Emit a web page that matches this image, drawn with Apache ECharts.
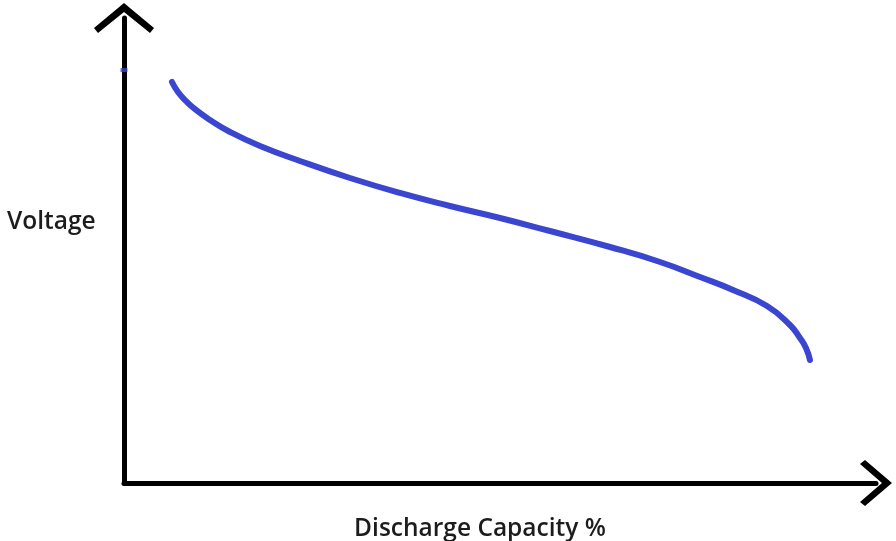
<!DOCTYPE html>
<html>
<head>
<meta charset="utf-8">
<script src="https://cdn.jsdelivr.net/npm/echarts@6/dist/echarts.min.js"></script>
<style>html,body{margin:0;padding:0;background:#fff;}#c{width:896px;height:541px;}</style>
</head>
<body>
<div id="c"></div>
<script>
// Data (discharge capacity %, voltage in relative units)
const capacity = [6.38, 7.18, 8.24, 9.57, 11.44, 14.1, 18.09, 23.4, 30.05, 36.7, 43.35, 50.0, 56.65, 64.63, 71.28, 76.6, 80.98, 85.51, 88.56, 89.89, 90.69, 91.22];
const voltage  = [86.24, 84.09, 82.15, 80.22, 78.06, 75.48, 72.47, 69.25, 65.59, 62.37, 59.57, 56.99, 54.19, 50.75, 47.53, 44.3, 41.51, 38.06, 33.98, 31.18, 29.03, 26.45];
const startMark = [[0, 88.8]];
const xName = 'Discharge Capacity %';
const yName = 'Voltage';

const chevronY = 'path://M30,0 L60,25 L56,30 L30,9 L4,30 L0,25 Z';
const chevronX = 'path://M23,0 L46,27 L42,32 L23,10 L4,32 L0,27 Z';
const textStyle = {fontFamily: 'Open Sans', fontSize: 24.5, fontWeight: 600, color: '#1c1c1c'};
const chart = echarts.init(document.getElementById('c'), null, {renderer: 'canvas'});
chart.setOption({
  animation: false,
  backgroundColor: '#ffffff',
  title: [{
    text: yName, left: 7, top: 210, padding: 0,
    textStyle: textStyle
  }],
  grid: {left: 124, right: 20, top: 18, bottom: 58, containLabel: false, outerBoundsMode: 'none'},
  xAxis: {
    type: 'value', min: 0, max: 100,
    name: xName, nameLocation: 'middle', nameGap: 34,
    nameTextStyle: Object.assign({}, textStyle, {padding: [0, 40, 0, 0]}),
    axisLine: {show: true, onZero: false, lineStyle: {color: '#000', width: 5},
      symbol: ['none', chevronX], symbolSize: [46, 32], symbolOffset: [0, 0]},
    axisTick: {show: false}, axisLabel: {show: false}, splitLine: {show: false}
  },
  yAxis: {
    type: 'value', min: 0, max: 100,
    axisLine: {show: true, onZero: false, lineStyle: {color: '#000', width: 5},
      symbol: ['none', chevronY], symbolSize: [60, 30], symbolOffset: [0, 0]},
    axisTick: {show: false}, axisLabel: {show: false}, splitLine: {show: false}
  },
  series: [
    {
      type: 'line', smooth: 0.5, symbol: 'none',
      data: capacity.map((c, i) => [c, voltage[i]]),
      lineStyle: {color: '#3a46d0', width: 6, cap: 'round'}
    },
    {
      type: 'scatter', symbol: 'rect', symbolSize: [7, 4],
      data: startMark, itemStyle: {color: '#3a46d0'}, z: 1
    }
  ]
});
</script>
</body>
</html>
